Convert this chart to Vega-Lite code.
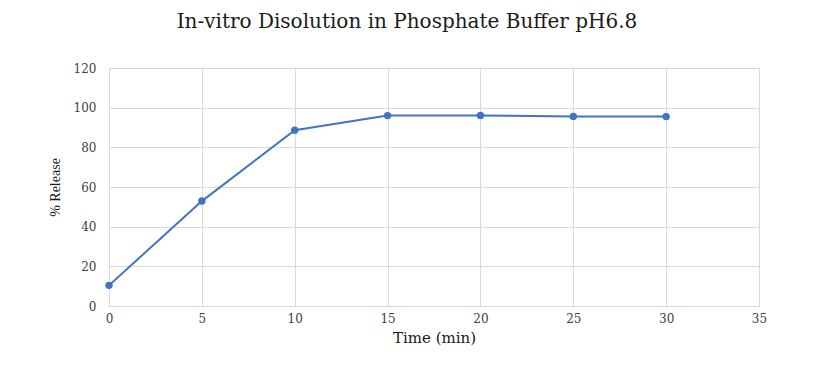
{
  "$schema": "https://vega.github.io/schema/vega-lite/v6.json",
  "autosize": "none",
  "width": 650,
  "height": 238,
  "padding": {"left": 109, "top": 68, "right": 56, "bottom": 78},
  "background": "white",
  "title": {
    "text": "In-vitro Disolution in Phosphate Buffer pH6.8",
    "font": "DejaVu Serif",
    "fontSize": 20,
    "fontWeight": "normal",
    "color": "#1a1a1a",
    "anchor": "middle",
    "dx": -27,
    "offset": 30
  },
  "data": {
    "values": [
      {"time": 0, "release": 10.4},
      {"time": 5, "release": 52.9},
      {"time": 10, "release": 88.6},
      {"time": 15, "release": 96.0},
      {"time": 20, "release": 96.1},
      {"time": 25, "release": 95.6},
      {"time": 30, "release": 95.5}
    ]
  },
  "encoding": {
    "x": {
      "field": "time",
      "type": "quantitative",
      "title": "Time (min)",
      "scale": {"domain": [0, 35], "nice": false},
      "axis": {"values": [0, 5, 10, 15, 20, 25, 30, 35], "titlePadding": 6, "labelFlush": false}
    },
    "y": {
      "field": "release",
      "type": "quantitative",
      "title": "% Release",
      "scale": {"domain": [0, 120], "nice": false},
      "axis": {"values": [0, 20, 40, 60, 80, 100, 120], "titlePadding": 11, "labelFlush": false}
    }
  },
  "layer": [
    {"mark": {"type": "line", "color": "#4472C4", "strokeWidth": 2}},
    {"mark": {"type": "point", "filled": true, "color": "#4472C4", "size": 55, "opacity": 1}}
  ],
  "config": {
    "view": {"stroke": "#d9d9d9", "strokeWidth": 1},
    "axis": {
      "labelFont": "DejaVu Serif",
      "labelFontSize": 12,
      "labelColor": "#404040",
      "titleFont": "DejaVu Serif",
      "titleFontSize": 15,
      "titleFontWeight": "normal",
      "titleColor": "#1a1a1a",
      "gridColor": "#d9d9d9",
      "gridWidth": 1,
      "domainColor": "#d9d9d9",
      "ticks": false
    },
    "axisX": {"labelPadding": 7},
    "axisY": {"labelPadding": 13, "domain": false, "titleFont": "Liberation Serif", "titleFontSize": 14}
  }
}
